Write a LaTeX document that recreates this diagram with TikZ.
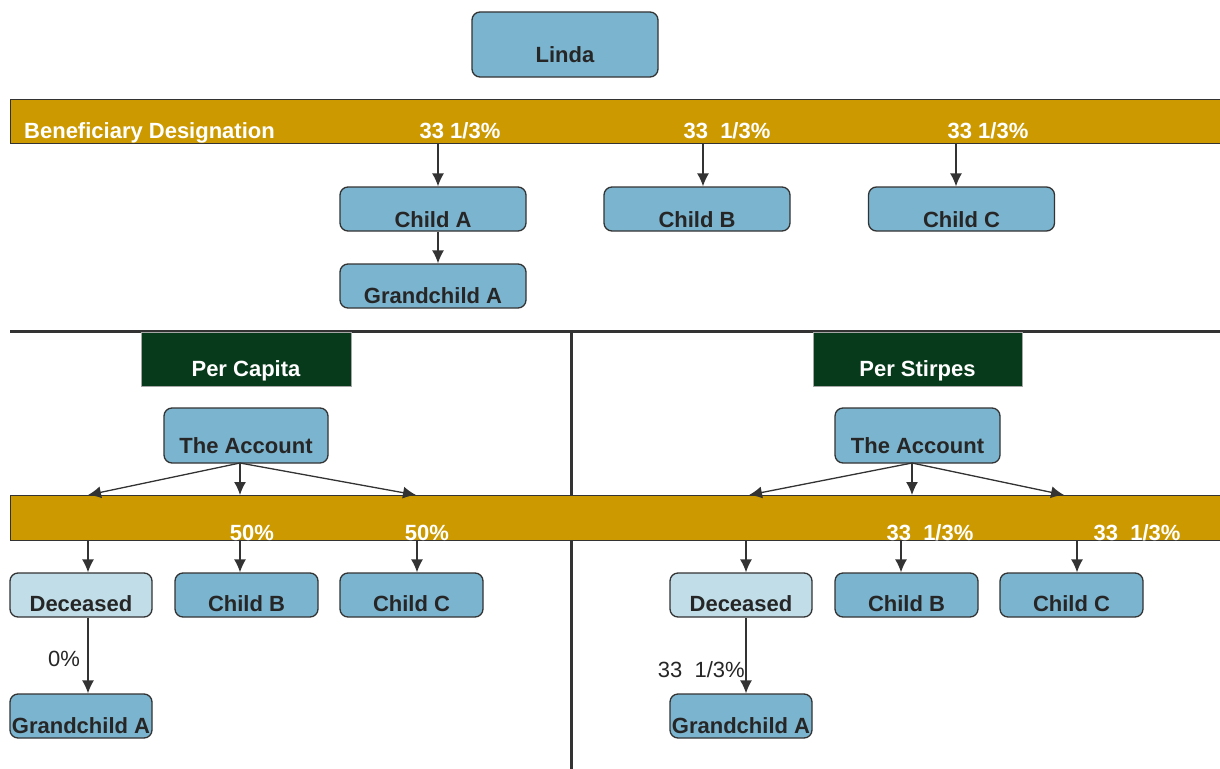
\documentclass[tikz,border=0pt]{standalone}
\usepackage{fontspec}
\setmainfont{Liberation Sans}
\usetikzlibrary{arrows.meta}
\definecolor{gold}{HTML}{CC9900}
\definecolor{boxblue}{HTML}{7BB4CF}
\definecolor{deadblue}{HTML}{C0DDE8}
\definecolor{dgreen}{HTML}{063A1A}
\definecolor{txt}{HTML}{262626}
\definecolor{edge}{HTML}{333333}
\tikzset{
  bfont/.style={font=\fontsize{22}{26}\selectfont\bfseries},
  rfont/.style={font=\fontsize{22}{26}\selectfont},
  bluebox/.style={draw=edge, line width=1.3pt, fill=boxblue, rounded corners=8pt, inner sep=0pt},
  deadbox/.style={draw=edge, line width=1.3pt, fill=deadblue, rounded corners=8pt, inner sep=0pt},
  greenbox/.style={draw=gray!70, line width=0.8pt, fill=dgreen, inner sep=0pt},
  goldbar/.style={draw=edge, line width=0.9pt, fill=gold, inner sep=0pt},
  btxt/.style 2 args={label={[anchor=base, yshift=#1pt, text=txt, bfont, inner sep=0pt]south:#2}},
  wtxt/.style 2 args={label={[anchor=base, yshift=#1pt, text=white, bfont, inner sep=0pt]south:#2}},
  barlabel/.style={anchor=base, text=white, bfont, inner sep=0pt},
  arr/.style={draw=edge, line width=1.3pt, -{Latex[length=13pt, width=12pt]}},
  divider/.style={draw=edge, line width=3pt},
  wsz/.style 2 args={minimum width=#1pt, minimum height=#2pt}
}
\begin{document}
\begin{tikzpicture}[x=1pt, y=-1pt]
\useasboundingbox (0,0) rectangle (1220,768);
\fill[white] (0,0) rectangle (1220,768);

% ---------- top part ----------
\node[bluebox, wsz={186}{65}, btxt={15}{Linda}] (linda) at (565,44.5) {};
\node[goldbar, wsz={1215}{44}] (bar1) at (617.5,121) {};
\node[barlabel, anchor=base west] (bd) at (24,138) {Beneficiary Designation};
\node[barlabel] (p1) at (460,138) {33 1/3\%};
\node[barlabel] (p2) at (727,138) {33\ \ 1/3\%};
\node[barlabel] (p3) at (988,138) {33 1/3\%};

\node[bluebox, wsz={186}{44}, btxt={4}{Child A}] (cA) at (433,209) {};
\node[bluebox, wsz={186}{44}, btxt={4}{Child B}] (cB) at (697,209) {};
\node[bluebox, wsz={186}{44}, btxt={4}{Child C}] (cC) at (961.5,209) {};
\node[bluebox, wsz={186}{44}, btxt={5}{Grandchild A}] (gA) at (433,286) {};

\coordinate (xa) at (438,0);
\coordinate (xb) at (703,0);
\coordinate (xc) at (956,0);
\draw[arr] (bar1.south -| xa) -- (cA.north -| xa);
\draw[arr] (bar1.south -| xb) -- (cB.north -| xb);
\draw[arr] (bar1.south -| xc) -- (cC.north -| xc);
\draw[arr] (cA.south -| xa) -- (gA.north -| xa);

% ---------- dividers ----------
\coordinate (hl) at (10,331);
\coordinate (hr) at (1222,331);
\coordinate (vt) at (571,331);
\coordinate (vb) at (571,770);
\draw[divider] (hl) -- (hr);
\draw[divider] (vt) -- (vb);

% ---------- bar 2 ----------
\node[goldbar, wsz={1215}{45}] (bar2) at (617.5,517.5) {};

% ---------- Per Capita ----------
\node[greenbox, wsz={210}{54}, wtxt={10}{Per Capita}] (pc) at (246,359) {};
\node[bluebox, wsz={164}{55}, btxt={10}{The Account}] (accL) at (246,435.5) {};
\coordinate (oL) at (240,463);
\coordinate (tL1) at (88,495);
\coordinate (tL2) at (240,495);
\coordinate (tL3) at (416,495);
\draw[arr] (oL) -- (tL1);
\draw[arr] (oL) -- (tL2);
\draw[arr] (oL) -- (tL3);

\node[deadbox, wsz={142}{44}, btxt={6}{Deceased}] (decL) at (81,595) {};
\node[bluebox, wsz={143}{44}, btxt={6}{Child B}] (cBL) at (246.5,595) {};
\node[bluebox, wsz={143}{44}, btxt={6}{Child C}] (cCL) at (411.5,595) {};
\node[bluebox, wsz={142}{44}, btxt={5}{Grandchild A}] (gAL) at (81,716) {};

\coordinate (x1) at (88,0);
\coordinate (x2) at (240,0);
\coordinate (x3) at (417,0);
\draw[arr] (bar2.south -| x1) -- (decL.north -| x1);
\draw[arr] (bar2.south -| x2) -- (cBL.north -| x2);
\draw[arr] (bar2.south -| x3) -- (cCL.north -| x3);
\draw[arr] (decL.south -| x1) -- (gAL.north -| x1);
\node[barlabel] (l50a) at (252,540) {50\%};
\node[barlabel] (l50b) at (427,540) {50\%};
\node[rfont, text=txt, anchor=base, inner sep=0pt] (z0) at (64,666) {0\%};

% ---------- Per Stirpes ----------
\node[greenbox, wsz={209}{54}, wtxt={10}{Per Stirpes}] (ps) at (917.5,359) {};
\node[bluebox, wsz={165}{55}, btxt={10}{The Account}] (accR) at (917.5,435.5) {};
\coordinate (oR) at (912,463);
\coordinate (tR1) at (749,495);
\coordinate (tR2) at (912,495);
\coordinate (tR3) at (1064,495);
\draw[arr] (oR) -- (tR1);
\draw[arr] (oR) -- (tR2);
\draw[arr] (oR) -- (tR3);

\node[deadbox, wsz={142}{44}, btxt={6}{Deceased}] (decR) at (741,595) {};
\node[bluebox, wsz={143}{44}, btxt={6}{Child B}] (cBR) at (906.5,595) {};
\node[bluebox, wsz={143}{44}, btxt={6}{Child C}] (cCR) at (1071.5,595) {};
\node[bluebox, wsz={142}{44}, btxt={5}{Grandchild A}] (gAR) at (741,716) {};

\coordinate (x4) at (746,0);
\coordinate (x5) at (901,0);
\coordinate (x6) at (1077,0);
\draw[arr] (bar2.south -| x4) -- (decR.north -| x4);
\draw[arr] (bar2.south -| x5) -- (cBR.north -| x5);
\draw[arr] (bar2.south -| x6) -- (cCR.north -| x6);
\draw[arr] (decR.south -| x4) -- (gAR.north -| x4);
\node[barlabel] (l33a) at (930,540) {33\ \ 1/3\%};
\node[barlabel] (l33b) at (1137,540) {33\ \ 1/3\%};
\node[rfont, text=txt, anchor=base east, inner sep=0pt] (z33) at (745,677) {33\ \ 1/3\%};
\end{tikzpicture}
\end{document}
